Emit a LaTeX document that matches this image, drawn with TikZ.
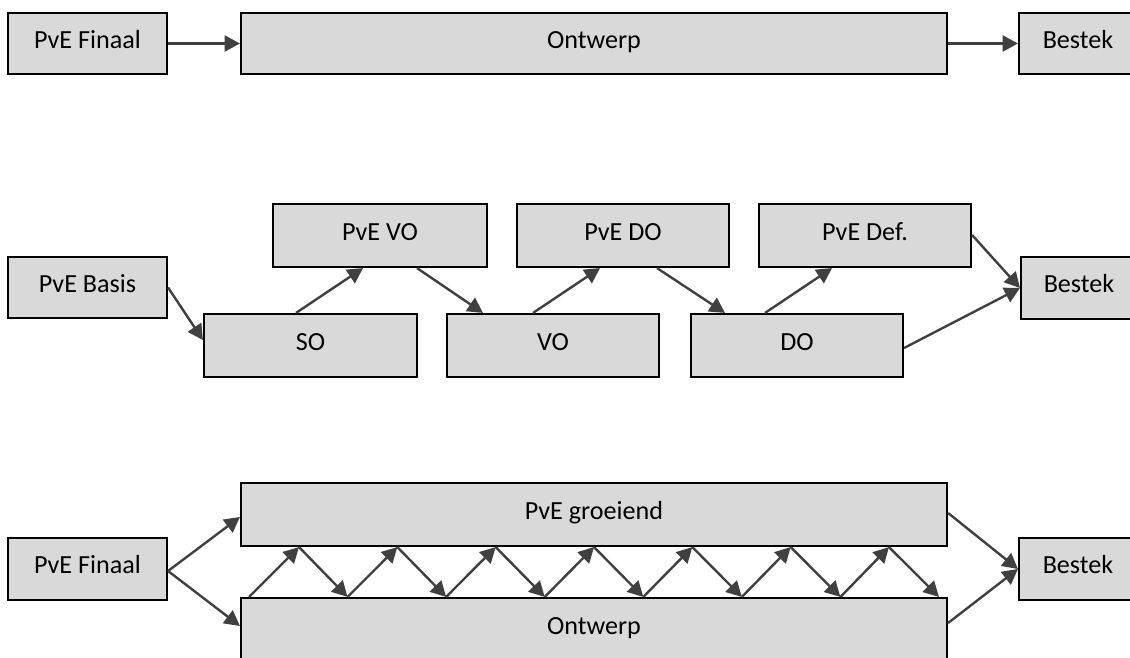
\documentclass[tikz,border=0pt]{standalone}
\usepackage{fontspec}
\setmainfont{Carlito}
\usetikzlibrary{arrows.meta}
\definecolor{boxfill}{HTML}{D9D9D9}
\definecolor{linkgray}{HTML}{404040}
\tikzset{
  blk/.style={draw=black, line width=1.6pt, fill=boxfill, inner sep=0pt,
    font=\fontsize{19.6}{23}\selectfont, text height=12pt, text depth=5.2pt},
  link/.style={draw=linkgray, line width=1.8pt,
    -{Triangle[length=11.5pt,width=12pt]}, color=linkgray},
}
% box given by its corners (pixel units, y downwards)
\newcommand\blkbox[6]{%
  \node[blk, minimum width={(#4-#2)*0.75pt}, minimum height={(#5-#3)*0.75pt}]
    (#1) at ({(#2+#4)/2},{(#3+#5)/2}) {#6};}
\begin{document}
\begin{tikzpicture}[x=0.75pt, y=-0.75pt]
\useasboundingbox (0,0) rectangle (1130,657);
\clip (0,0) rectangle (1130,657);

% --- top row: one design phase
\blkbox{fa}{8}{13}{167}{74}{PvE Finaal}
\blkbox{oa}{241}{13}{947}{74}{Ontwerp}
\blkbox{ba}{1019}{13}{1137}{74}{Bestek}
\draw[link] (fa.east) -- (oa.west);
\draw[link] (oa.east) -- (ba.west);

% --- middle row: stepwise programme and design
\blkbox{pb}{8}{257}{167}{318}{PvE Basis}
\blkbox{so}{204}{314}{417}{377}{SO}
\blkbox{vo}{447}{314}{659}{377}{VO}
\blkbox{do}{691}{314}{903}{377}{DO}
\blkbox{pvo}{273}{204}{487}{267}{PvE VO}
\blkbox{pdo}{517}{204}{729}{267}{PvE DO}
\blkbox{pdef}{759}{204}{971}{267}{PvE Def.}
\blkbox{bb}{1021}{257}{1137}{319}{Bestek}
\draw[link] (pb.east) -- (so.west |- 0,340);
\draw[link] (so.north -| 296,0) -- (pvo.south -| 363,0);
\draw[link] (pvo.south -| 417,0) -- (vo.north -| 483,0);
\draw[link] (vo.north -| 533,0) -- (pdo.south -| 600,0);
\draw[link] (pdo.south -| 657,0) -- (do.north -| 725,0);
\draw[link] (do.north -| 765,0) -- (pdef.south -| 832,0);
\draw[link] (pdef.east |- 0,235) -- (bb.west);
\draw[link] (do.east |- 0,348) -- (bb.west);

% --- bottom row: programme growing alongside the design
\blkbox{fc}{8}{538}{167}{600}{PvE Finaal}
\blkbox{pg}{241}{483}{947}{546}{PvE groeiend}
\blkbox{oc}{241}{598}{947}{661}{Ontwerp}
\blkbox{bc}{1019}{538}{1137}{600}{Bestek}
\coordinate (fcout) at (fc.east |- 0,571);
\draw[link] (fcout) -- (pg.west |- 0,517);
\draw[link] (fcout) -- (oc.west |- 0,626);
\coordinate (bcin) at (bc.west);
\draw[link] (pg.east |- 0,513) -- (bcin);
\draw[link] (oc.east |- 0,623) -- (bcin);
\foreach \k in {0,...,6}{
  \pgfmathsetmacro\xa{249+98.57*\k}
  \pgfmathsetmacro\xp{299+98.33*\k}
  \pgfmathsetmacro\xb{249+98.57*(\k+1)}
  \draw[link] (oc.north -| \xa,0) -- (pg.south -| \xp,0);
  \draw[link] (pg.south -| \xp,0) -- (oc.north -| \xb,0);
}
\end{tikzpicture}
\end{document}
